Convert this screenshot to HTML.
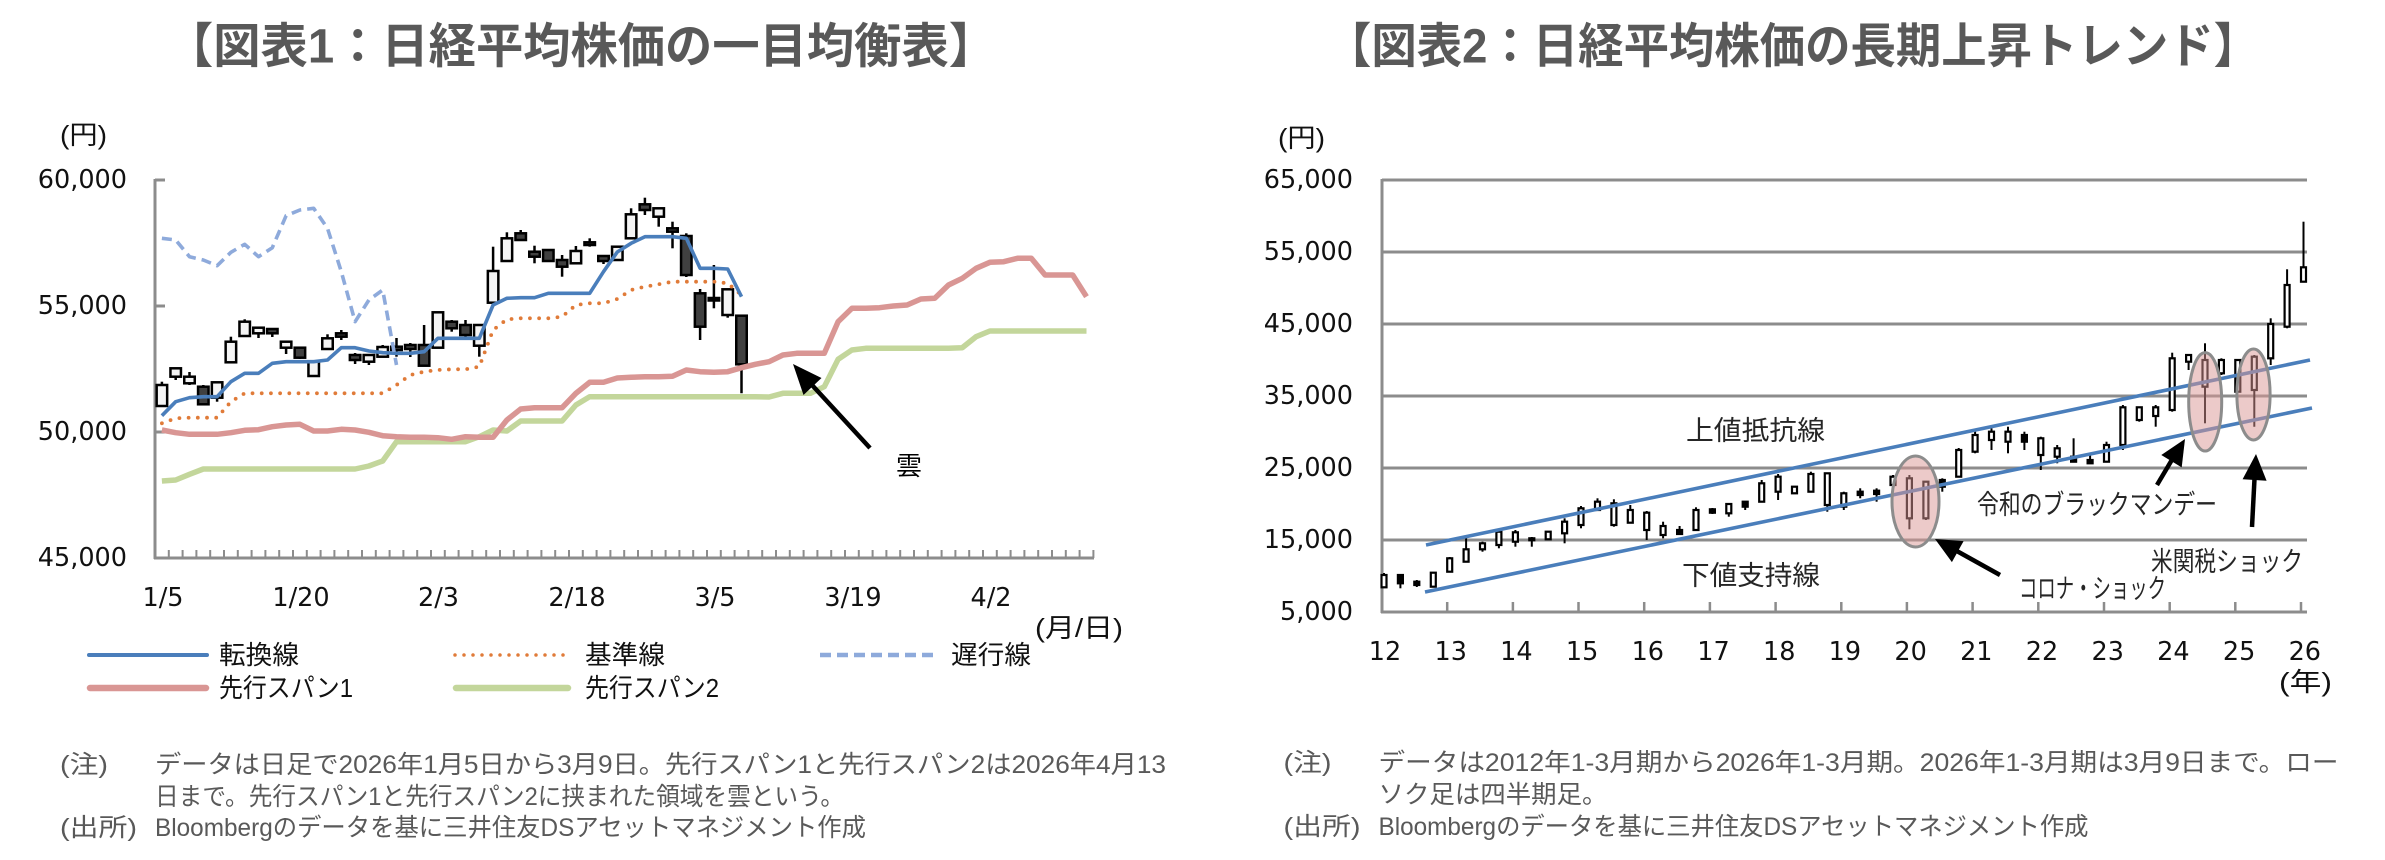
<!DOCTYPE html>
<html lang="ja">
<head>
<meta charset="utf-8">
<style>
html,body{margin:0;padding:0;background:#fff;}
svg{display:block;}
.jp{font-family:"Liberation Sans","Noto Sans CJK JP",sans-serif;}
.num{font-family:"DejaVu Sans","Liberation Sans",sans-serif;font-size:25.5px;fill:#111;}
</style>
</head>
<body>
<svg width="2385" height="860" viewBox="0 0 2385 860" xmlns="http://www.w3.org/2000/svg">
<rect x="0" y="0" width="2385" height="860" fill="#fff"/>

<!-- ===== Titles ===== -->
<text class="jp" x="166" y="47" dominant-baseline="central" font-size="48" font-weight="bold" fill="#595959" textLength="830" lengthAdjust="spacingAndGlyphs">【図表1：日経平均株価の一目均衡表】</text>
<text class="jp" x="1326" y="47" dominant-baseline="central" font-size="48" font-weight="bold" fill="#595959" textLength="933" lengthAdjust="spacingAndGlyphs">【図表2：日経平均株価の長期上昇トレンド】</text>

<!-- ===================== CHART 1 ===================== -->
<text class="jp" x="60" y="135" dominant-baseline="central" font-size="26" fill="#111" textLength="47" lengthAdjust="spacingAndGlyphs">(円)</text>
<g class="num" text-anchor="end" dominant-baseline="central">
<text x="127" y="180">60,000</text>
<text x="127" y="306">55,000</text>
<text x="127" y="432">50,000</text>
<text x="127" y="558">45,000</text>
</g>
<!-- axes -->
<g stroke="#8c8c8c" stroke-width="3" fill="none">
<line x1="155" y1="179" x2="155" y2="559"/>
<line x1="154" y1="558" x2="1094" y2="558"/>
<line x1="155" y1="180" x2="165" y2="180"/>
<line x1="155" y1="306" x2="165" y2="306"/>
<line x1="155" y1="432" x2="165" y2="432"/>
</g>
<path stroke="#8c8c8c" stroke-width="2" fill="none" d="M168.8 550V558M182.6 550V558M196.4 550V558M210.2 550V558M224 550V558M237.8 550V558M251.6 550V558M265.4 550V558M279.2 550V558M293 550V558M306.8 550V558M320.6 550V558M334.4 550V558M348.2 550V558M362 550V558M375.8 550V558M389.6 550V558M403.4 550V558M417.2 550V558M431 550V558M444.8 550V558M458.6 550V558M472.4 550V558M486.2 550V558M500 550V558M513.8 550V558M527.6 550V558M541.4 550V558M555.2 550V558M569 550V558M582.8 550V558M596.6 550V558M610.4 550V558M624.2 550V558M638 550V558M651.8 550V558M665.6 550V558M679.4 550V558M693.2 550V558M707 550V558M720.8 550V558M734.6 550V558M748.4 550V558M762.2 550V558M776 550V558M789.8 550V558M803.6 550V558M817.4 550V558M831.2 550V558M845 550V558M858.8 550V558M872.6 550V558M886.4 550V558M900.2 550V558M914 550V558M927.8 550V558M941.6 550V558M955.4 550V558M969.2 550V558M983 550V558M996.8 550V558M1010.6 550V558M1024.4 550V558M1038.2 550V558M1052 550V558M1065.8 550V558M1079.6 550V558M1093.4 550V558"/>
<!-- x labels -->
<g class="num" text-anchor="middle" dominant-baseline="central">
<text x="163" y="598">1/5</text>
<text x="301" y="598">1/20</text>
<text x="438.5" y="598">2/3</text>
<text x="577" y="598">2/18</text>
<text x="715" y="598">3/5</text>
<text x="853" y="598">3/19</text>
<text x="991" y="598">4/2</text>
</g>
<text class="jp" x="1035" y="628" dominant-baseline="central" font-size="26" fill="#111" textLength="88" lengthAdjust="spacingAndGlyphs">(月/日)</text>

<!-- candles chart 1 -->
<g stroke="#000" stroke-width="2.5">
<line x1="161.9" y1="381.7" x2="161.9" y2="406"/>
<line x1="175.7" y1="368" x2="175.7" y2="380"/>
<line x1="189.5" y1="372" x2="189.5" y2="385"/>
<line x1="203.3" y1="385" x2="203.3" y2="405"/>
<line x1="217.1" y1="382" x2="217.1" y2="401.7"/>
<line x1="230.9" y1="336.7" x2="230.9" y2="362.3"/>
<line x1="244.7" y1="319.3" x2="244.7" y2="336"/>
<line x1="258.5" y1="327" x2="258.5" y2="338"/>
<line x1="272.3" y1="328" x2="272.3" y2="337"/>
<line x1="286.1" y1="341" x2="286.1" y2="354"/>
<line x1="299.9" y1="347" x2="299.9" y2="359"/>
<line x1="313.7" y1="361.7" x2="313.7" y2="376"/>
<line x1="327.5" y1="334.3" x2="327.5" y2="349"/>
<line x1="341.3" y1="330" x2="341.3" y2="340"/>
<line x1="355.1" y1="353" x2="355.1" y2="364"/>
<line x1="368.9" y1="354" x2="368.9" y2="365"/>
<line x1="382.7" y1="345" x2="382.7" y2="357"/>
<line x1="396.5" y1="338" x2="396.5" y2="356.7"/>
<line x1="410.3" y1="343" x2="410.3" y2="357"/>
<line x1="424.1" y1="325" x2="424.1" y2="366"/>
<line x1="437.9" y1="312" x2="437.9" y2="348"/>
<line x1="451.7" y1="320" x2="451.7" y2="331.7"/>
<line x1="465.5" y1="320" x2="465.5" y2="337"/>
<line x1="479.3" y1="325" x2="479.3" y2="356.7"/>
<line x1="493.1" y1="246.7" x2="493.1" y2="302.7"/>
<line x1="506.9" y1="232.3" x2="506.9" y2="261"/>
<line x1="520.7" y1="230" x2="520.7" y2="241"/>
<line x1="534.5" y1="245.7" x2="534.5" y2="263.3"/>
<line x1="548.3" y1="250" x2="548.3" y2="262"/>
<line x1="562.1" y1="255" x2="562.1" y2="276.7"/>
<line x1="575.9" y1="246" x2="575.9" y2="264"/>
<line x1="589.7" y1="238.3" x2="589.7" y2="246.7"/>
<line x1="603.5" y1="255" x2="603.5" y2="264"/>
<line x1="617.3" y1="246" x2="617.3" y2="261"/>
<line x1="631.1" y1="208.3" x2="631.1" y2="238.3"/>
<line x1="644.9" y1="197.7" x2="644.9" y2="215"/>
<line x1="658.7" y1="208" x2="658.7" y2="226.7"/>
<line x1="672.5" y1="221.7" x2="672.5" y2="248.3"/>
<line x1="686.3" y1="233.3" x2="686.3" y2="277"/>
<line x1="700.1" y1="289" x2="700.1" y2="340"/>
<line x1="713.9" y1="265" x2="713.9" y2="308.3"/>
<line x1="727.7" y1="289" x2="727.7" y2="317.7"/>
<line x1="741.5" y1="315" x2="741.5" y2="393.3"/>
</g>
<g stroke="#000" stroke-width="2.5" fill="#f4f4f4">
<rect x="156.65" y="385" width="10.5" height="21"/>
<rect x="170.45" y="368.3" width="10.5" height="8.4"/>
<rect x="184.25" y="376.7" width="10.5" height="6.6"/>
<rect x="211.85" y="382.3" width="10.5" height="15.4"/>
<rect x="225.65" y="341.7" width="10.5" height="20.6"/>
<rect x="239.45" y="321.7" width="10.5" height="14.3"/>
<rect x="253.25" y="327.7" width="10.5" height="5.6"/>
<rect x="280.85" y="341.7" width="10.5" height="6"/>
<rect x="308.45" y="361.7" width="10.5" height="14.3"/>
<rect x="322.25" y="338.3" width="10.5" height="10.7"/>
<rect x="363.65" y="355" width="10.5" height="6.7"/>
<rect x="377.45" y="347" width="10.5" height="9.7"/>
<rect x="432.65" y="312.3" width="10.5" height="35.4"/>
<rect x="474.05" y="325" width="10.5" height="20.7"/>
<rect x="487.85" y="271" width="10.5" height="31.7"/>
<rect x="501.65" y="238.3" width="10.5" height="22.7"/>
<rect x="570.65" y="251" width="10.5" height="12.3"/>
<rect x="612.05" y="246.7" width="10.5" height="13.3"/>
<rect x="625.85" y="214.3" width="10.5" height="24"/>
<rect x="653.45" y="208.3" width="10.5" height="8.4"/>
<rect x="722.45" y="289.3" width="10.5" height="25.7"/>
</g>
<g stroke="#000" stroke-width="2.5" fill="#404040">
<rect x="198.05" y="386.7" width="10.5" height="17.6"/>
<rect x="267.05" y="329" width="10.5" height="4.3"/>
<rect x="294.65" y="347.7" width="10.5" height="10"/>
<rect x="336.05" y="333.3" width="10.5" height="3.4"/>
<rect x="349.85" y="355" width="10.5" height="5"/>
<rect x="391.25" y="346.7" width="10.5" height="3.3"/>
<rect x="405.05" y="345" width="10.5" height="4"/>
<rect x="418.85" y="345" width="10.5" height="20.7"/>
<rect x="446.45" y="321.7" width="10.5" height="6.6"/>
<rect x="460.25" y="325" width="10.5" height="10"/>
<rect x="515.45" y="233.3" width="10.5" height="6.7"/>
<rect x="529.25" y="251.7" width="10.5" height="5"/>
<rect x="543.05" y="250" width="10.5" height="11"/>
<rect x="556.85" y="260" width="10.5" height="6.7"/>
<rect x="584.45" y="242.3" width="10.5" height="2.7"/>
<rect x="598.25" y="256" width="10.5" height="5"/>
<rect x="639.65" y="204.3" width="10.5" height="5.7"/>
<rect x="667.25" y="228.3" width="10.5" height="3.4"/>
<rect x="681.05" y="236" width="10.5" height="39"/>
<rect x="694.85" y="293.3" width="10.5" height="33.4"/>
<rect x="708.65" y="298" width="10.5" height="2.5"/>
<rect x="736.25" y="315.7" width="10.5" height="48.6"/>
</g>

<!-- ichimoku lines -->
<g fill="none" stroke-linejoin="round">
<polyline stroke="#c3d69b" stroke-width="5.5" points="161.9,481 175.7,480 189.5,474.3 203.3,469 217.1,469 230.9,469 244.7,469 258.5,469 272.3,469 286.1,469 299.9,469 313.7,469 327.5,469 341.3,469 355.1,469 368.9,466 382.7,461 396.5,441.7 410.3,441.7 424.1,441.7 437.9,441.7 451.7,441.7 465.5,441.7 479.3,436.7 493.1,430 506.9,431 520.7,421 534.5,421 548.3,421 562.1,421 575.9,405 589.7,396.7 603.5,396.7 617.3,396.7 631.1,396.7 644.9,396.7 658.7,396.7 672.5,396.7 686.3,396.7 700.1,396.7 713.9,396.7 727.7,396.7 741.5,396.7 755.3,396.7 769.1,397 782.9,393.3 796.7,393.3 810.5,393.3 824.3,386.7 838.1,359.3 851.9,350 865.7,348.3 879.5,348.3 893.3,348.3 907.1,348.3 920.9,348.3 934.7,348.3 948.5,348.3 962.3,347.7 976.1,336.7 989.9,331 1003.7,331 1017.5,331 1031.3,331 1045.1,331 1058.9,331 1072.7,331 1086.5,331"/>
<polyline stroke="#d99694" stroke-width="5.5" points="161.9,430 175.7,432.7 189.5,434.3 203.3,434.3 217.1,434.3 230.9,432.7 244.7,430.3 258.5,429.7 272.3,426.7 286.1,425 299.9,424.3 313.7,431 327.5,431 341.3,429.3 355.1,430 368.9,432.3 382.7,435.7 396.5,436.7 410.3,437.3 424.1,437.3 437.9,437.7 451.7,439.3 465.5,436.7 479.3,437.3 493.1,437.3 506.9,420 520.7,409 534.5,407.7 548.3,407.7 562.1,407.7 575.9,393.3 589.7,382.3 603.5,382.3 617.3,378 631.1,377.3 644.9,376.7 658.7,376.7 672.5,376.3 686.3,370 700.1,371.7 713.9,372.3 727.7,371.7 741.5,367.7 755.3,364.3 769.1,361.7 782.9,355 796.7,353.3 810.5,353.3 824.3,353.3 838.1,321.7 851.9,308.3 865.7,308.3 879.5,307.7 893.3,306 907.1,305 920.9,299 934.7,298.3 948.5,285 962.3,278.3 976.1,268.3 989.9,262.3 1003.7,261.7 1017.5,258.3 1031.3,258.3 1045.1,275 1058.9,275 1072.7,275 1086.5,296.7"/>
<polyline stroke="#e07b39" stroke-width="3.8" stroke-linecap="round" stroke-dasharray="0 9.2" points="161.9,423.3 175.7,418.3 189.5,417.7 203.3,417.7 217.1,417.7 230.9,401.7 244.7,393.3 258.5,393.3 272.3,393.3 286.1,393.3 299.9,393.3 313.7,393.3 327.5,393.3 341.3,393.3 355.1,393.3 368.9,393.3 382.7,393.3 396.5,385 410.3,375 424.1,371.7 437.9,370 451.7,369.3 465.5,369.3 479.3,366.7 493.1,330 506.9,319.3 520.7,318.3 534.5,318.3 548.3,318.3 562.1,316.7 575.9,305 589.7,303.3 603.5,303.3 617.3,299 631.1,290 644.9,286.7 658.7,284.3 672.5,281.7 686.3,281.7 700.1,281.7 713.9,281.7 727.7,283.3 741.5,295"/>
<polyline stroke="#4a7ebb" stroke-width="3.6" points="161.9,415.7 175.7,401.7 189.5,397.7 203.3,396.7 217.1,396.7 230.9,381.7 244.7,373.3 258.5,373.3 272.3,363.3 286.1,361.7 299.9,361.7 313.7,361.7 327.5,360 341.3,347.7 355.1,347.7 368.9,351 382.7,352.7 396.5,353.3 410.3,353.3 424.1,351.7 437.9,338.3 451.7,338.3 465.5,338.3 479.3,338.3 493.1,305 506.9,298.3 520.7,297.7 534.5,297.7 548.3,293.3 562.1,293.3 575.9,293.3 589.7,293.3 603.5,271.7 617.3,252 631.1,243.3 644.9,236.7 658.7,236.7 672.5,236.7 686.3,238.3 700.1,268.3 713.9,268.3 727.7,269 741.5,296.7"/>
<polyline stroke="#8eaadb" stroke-width="3.6" stroke-dasharray="10 6" points="161.9,238.3 175.7,240 189.5,256.7 203.3,260 217.1,265.7 230.9,252.3 244.7,244.3 258.5,256.7 272.3,247.7 286.1,215.7 299.9,210 313.7,208.3 327.5,228.3 341.3,271.7 355.1,321.7 368.9,300 382.7,290 396.5,365"/>
</g>

<!-- 雲 arrow -->
<line x1="870" y1="448" x2="812" y2="385" stroke="#000" stroke-width="4.5"/>
<polygon points="793,364 821.5,378 803.5,395" fill="#000"/>
<text class="jp" x="909" y="466" text-anchor="middle" dominant-baseline="central" font-size="26" fill="#000">雲</text>

<!-- legend chart 1 -->
<line x1="89" y1="655" x2="207" y2="655" stroke="#4a7ebb" stroke-width="4" stroke-linecap="round"/>
<line x1="455" y1="655" x2="569" y2="655" stroke="#e07b39" stroke-width="3.5" stroke-linecap="round" stroke-dasharray="0 9"/>
<line x1="820" y1="655" x2="938" y2="655" stroke="#8eaadb" stroke-width="4.5" stroke-dasharray="11 6"/>
<line x1="90" y1="688" x2="206" y2="688" stroke="#d99694" stroke-width="6.5" stroke-linecap="round"/>
<line x1="456" y1="688" x2="568" y2="688" stroke="#c3d69b" stroke-width="6.5" stroke-linecap="round"/>
<g class="jp" font-size="26" fill="#111" dominant-baseline="central">
<text x="219" y="655" textLength="80" lengthAdjust="spacingAndGlyphs">転換線</text>
<text x="585" y="655" textLength="80" lengthAdjust="spacingAndGlyphs">基準線</text>
<text x="951" y="655" textLength="80" lengthAdjust="spacingAndGlyphs">遅行線</text>
<text x="219" y="688" textLength="134" lengthAdjust="spacingAndGlyphs">先行スパン1</text>
<text x="585" y="688" textLength="134" lengthAdjust="spacingAndGlyphs">先行スパン2</text>
</g>

<!-- notes chart 1 -->
<g class="jp" font-size="25" fill="#595959" dominant-baseline="central">
<text x="60" y="765" textLength="48" lengthAdjust="spacingAndGlyphs">(注)</text>
<text x="155" y="765" textLength="1011" lengthAdjust="spacingAndGlyphs">データは日足で2026年1月5日から3月9日。先行スパン1と先行スパン2は2026年4月13</text>
<text x="155" y="797" textLength="689" lengthAdjust="spacingAndGlyphs">日まで。先行スパン1と先行スパン2に挟まれた領域を雲という。</text>
<text x="60" y="828" textLength="77" lengthAdjust="spacingAndGlyphs">(出所)</text>
<text x="155" y="828" textLength="711" lengthAdjust="spacingAndGlyphs">Bloombergのデータを基に三井住友DSアセットマネジメント作成</text>
</g>

<!-- ===================== CHART 2 ===================== -->
<text class="jp" x="1278" y="138" dominant-baseline="central" font-size="26" fill="#111" textLength="47" lengthAdjust="spacingAndGlyphs">(円)</text>
<g class="num" text-anchor="end" dominant-baseline="central">
<text x="1353" y="180">65,000</text>
<text x="1353" y="252">55,000</text>
<text x="1353" y="324">45,000</text>
<text x="1353" y="396">35,000</text>
<text x="1353" y="468">25,000</text>
<text x="1353" y="540">15,000</text>
<text x="1353" y="612">5,000</text>
</g>
<g stroke="#8c8c8c" stroke-width="3" fill="none">
<line x1="1382" y1="180" x2="2307" y2="180"/>
<line x1="1382" y1="252" x2="2307" y2="252"/>
<line x1="1382" y1="324" x2="2307" y2="324"/>
<line x1="1382" y1="396" x2="2307" y2="396"/>
<line x1="1382" y1="468" x2="2307" y2="468"/>
<line x1="1382" y1="540" x2="2307" y2="540"/>
<line x1="1381" y1="612" x2="2307" y2="612"/>
<line x1="1382" y1="179" x2="1382" y2="613"/>
</g>
<path stroke="#8c8c8c" stroke-width="2.5" fill="none" d="M1447.2 602V612M1512.9 602V612M1578.5 602V612M1644.2 602V612M1709.9 602V612M1775.6 602V612M1841.3 602V612M1906.9 602V612M1972.6 602V612M2038.3 602V612M2104 602V612M2169.7 602V612M2235.3 602V612M2301 602V612"/>
<g class="num" text-anchor="middle" dominant-baseline="central">
<text x="1385" y="652">12</text>
<text x="1450.7" y="652">13</text>
<text x="1516.4" y="652">14</text>
<text x="1582.1" y="652">15</text>
<text x="1647.8" y="652">16</text>
<text x="1713.5" y="652">17</text>
<text x="1779.2" y="652">18</text>
<text x="1844.9" y="652">19</text>
<text x="1910.6" y="652">20</text>
<text x="1976.3" y="652">21</text>
<text x="2042" y="652">22</text>
<text x="2107.7" y="652">23</text>
<text x="2173.4" y="652">24</text>
<text x="2239.1" y="652">25</text>
<text x="2304.8" y="652">26</text>
</g>
<text class="jp" x="2279" y="682" dominant-baseline="central" font-size="26" fill="#111" textLength="53" lengthAdjust="spacingAndGlyphs">(年)</text>

<!-- candles chart 2 -->
<g stroke="#000" stroke-width="2">
<line x1="1384" y1="573" x2="1384" y2="588"/>
<line x1="1400.4" y1="574" x2="1400.4" y2="588.3"/>
<line x1="1416.8" y1="580" x2="1416.8" y2="587"/>
<line x1="1433.3" y1="572" x2="1433.3" y2="587"/>
<line x1="1449.7" y1="557" x2="1449.7" y2="572"/>
<line x1="1466.1" y1="536.7" x2="1466.1" y2="562"/>
<line x1="1482.5" y1="541.7" x2="1482.5" y2="551.7"/>
<line x1="1498.9" y1="530" x2="1498.9" y2="548.3"/>
<line x1="1515.4" y1="530" x2="1515.4" y2="546.7"/>
<line x1="1531.8" y1="537" x2="1531.8" y2="546.7"/>
<line x1="1548.2" y1="531" x2="1548.2" y2="540"/>
<line x1="1564.6" y1="518.3" x2="1564.6" y2="543.3"/>
<line x1="1581" y1="506" x2="1581" y2="528.3"/>
<line x1="1597.5" y1="498.3" x2="1597.5" y2="511"/>
<line x1="1613.9" y1="499.3" x2="1613.9" y2="526.7"/>
<line x1="1630.3" y1="505" x2="1630.3" y2="523"/>
<line x1="1646.7" y1="511" x2="1646.7" y2="540"/>
<line x1="1663.1" y1="521.7" x2="1663.1" y2="538.3"/>
<line x1="1679.6" y1="526" x2="1679.6" y2="535"/>
<line x1="1696" y1="507.3" x2="1696" y2="530"/>
<line x1="1712.4" y1="508" x2="1712.4" y2="514"/>
<line x1="1728.8" y1="503" x2="1728.8" y2="516.7"/>
<line x1="1745.2" y1="501" x2="1745.2" y2="510"/>
<line x1="1761.7" y1="480" x2="1761.7" y2="501.7"/>
<line x1="1778.1" y1="474" x2="1778.1" y2="500"/>
<line x1="1794.5" y1="486" x2="1794.5" y2="494"/>
<line x1="1810.9" y1="471.7" x2="1810.9" y2="492"/>
<line x1="1827.3" y1="473" x2="1827.3" y2="511.7"/>
<line x1="1843.8" y1="491.7" x2="1843.8" y2="510"/>
<line x1="1860.2" y1="488.3" x2="1860.2" y2="498.3"/>
<line x1="1876.6" y1="488.3" x2="1876.6" y2="501.7"/>
<line x1="1893" y1="475" x2="1893" y2="491.7"/>
<line x1="1909.4" y1="475" x2="1909.4" y2="529.3"/>
<line x1="1925.9" y1="481" x2="1925.9" y2="520"/>
<line x1="1942.3" y1="478.3" x2="1942.3" y2="491.7"/>
<line x1="1958.7" y1="448" x2="1958.7" y2="477"/>
<line x1="1975.1" y1="430" x2="1975.1" y2="453.3"/>
<line x1="1991.5" y1="428.3" x2="1991.5" y2="450"/>
<line x1="2008" y1="426.7" x2="2008" y2="453.3"/>
<line x1="2024.4" y1="431.7" x2="2024.4" y2="450"/>
<line x1="2040.8" y1="436.7" x2="2040.8" y2="470"/>
<line x1="2057.2" y1="445" x2="2057.2" y2="463.3"/>
<line x1="2073.6" y1="438.3" x2="2073.6" y2="462"/>
<line x1="2090.1" y1="453.3" x2="2090.1" y2="464"/>
<line x1="2106.5" y1="441.7" x2="2106.5" y2="462"/>
<line x1="2122.9" y1="405" x2="2122.9" y2="450"/>
<line x1="2139.3" y1="407" x2="2139.3" y2="421.7"/>
<line x1="2155.7" y1="405" x2="2155.7" y2="426.7"/>
<line x1="2172.2" y1="352.7" x2="2172.2" y2="411.7"/>
<line x1="2188.6" y1="355" x2="2188.6" y2="370"/>
<line x1="2205" y1="343.3" x2="2205" y2="423.3"/>
<line x1="2221.4" y1="358.3" x2="2221.4" y2="375"/>
<line x1="2237.8" y1="360" x2="2237.8" y2="392"/>
<line x1="2254.3" y1="355" x2="2254.3" y2="426.7"/>
<line x1="2270.7" y1="318.3" x2="2270.7" y2="365"/>
<line x1="2287.1" y1="269.3" x2="2287.1" y2="328.3"/>
<line x1="2303.5" y1="221.7" x2="2303.5" y2="281.7"/>
</g>
<g stroke="#000" stroke-width="2.2" fill="#fff">
<rect x="1381.5" y="575" width="5" height="12.3"/>
<rect x="1430.8" y="572.7" width="5" height="14"/>
<rect x="1447.2" y="558.3" width="5" height="13.4"/>
<rect x="1463.6" y="549.3" width="5" height="12.4"/>
<rect x="1480" y="543.3" width="5" height="6"/>
<rect x="1496.4" y="531.7" width="5" height="13.3"/>
<rect x="1512.9" y="532.3" width="5" height="9.4"/>
<rect x="1545.7" y="531.7" width="5" height="7.6"/>
<rect x="1562.1" y="521.7" width="5" height="11.6"/>
<rect x="1578.5" y="508.3" width="5" height="16.7"/>
<rect x="1595" y="501.7" width="5" height="8.3"/>
<rect x="1611.4" y="503.3" width="5" height="21.7"/>
<rect x="1627.8" y="510" width="5" height="12.7"/>
<rect x="1644.2" y="512.7" width="5" height="17.3"/>
<rect x="1660.6" y="526" width="5" height="9"/>
<rect x="1693.5" y="510" width="5" height="20"/>
<rect x="1726.3" y="504" width="5" height="9.3"/>
<rect x="1759.2" y="483.3" width="5" height="18.4"/>
<rect x="1775.6" y="476.7" width="5" height="15"/>
<rect x="1792" y="486.7" width="5" height="6.6"/>
<rect x="1808.4" y="474" width="5" height="17.7"/>
<rect x="1824.8" y="473.3" width="5" height="31.7"/>
<rect x="1841.3" y="493.3" width="5" height="13.4"/>
<rect x="1890.5" y="476.7" width="5" height="8.3"/>
<rect x="1906.9" y="478.3" width="5" height="40"/>
<rect x="1923.4" y="481.7" width="5" height="36.6"/>
<rect x="1956.2" y="450" width="5" height="26.7"/>
<rect x="1972.6" y="435" width="5" height="16.7"/>
<rect x="1989" y="431.7" width="5" height="8.3"/>
<rect x="2005.5" y="431.7" width="5" height="10"/>
<rect x="2038.3" y="438.3" width="5" height="16.7"/>
<rect x="2054.7" y="448.3" width="5" height="8.4"/>
<rect x="2104" y="445" width="5" height="16.7"/>
<rect x="2120.4" y="407.3" width="5" height="37.7"/>
<rect x="2136.8" y="407.3" width="5" height="12.7"/>
<rect x="2153.2" y="407.3" width="5" height="8.7"/>
<rect x="2169.7" y="358.3" width="5" height="51.7"/>
<rect x="2186.1" y="355" width="5" height="6.7"/>
<rect x="2202.5" y="360" width="5" height="26.7"/>
<rect x="2218.9" y="360" width="5" height="13.3"/>
<rect x="2235.3" y="360" width="5" height="31.7"/>
<rect x="2251.8" y="356.7" width="5" height="33.3"/>
<rect x="2268.2" y="324" width="5" height="34.3"/>
<rect x="2284.6" y="285" width="5" height="41.7"/>
<rect x="2301" y="267.3" width="5" height="14.4"/>
</g>
<g stroke="#000" stroke-width="2.2" fill="#000">
<rect x="1397.9" y="575" width="5" height="8.3"/>
<rect x="1414.3" y="581.7" width="5" height="3.3"/>
<rect x="1529.3" y="538.3" width="5" height="2"/>
<rect x="1677.1" y="530" width="5" height="4"/>
<rect x="1709.9" y="509.3" width="5" height="3.4"/>
<rect x="1742.7" y="501.7" width="5" height="5"/>
<rect x="1857.7" y="491.7" width="5" height="3.3"/>
<rect x="1874.1" y="490.7" width="5" height="3.3"/>
<rect x="1939.8" y="480" width="5" height="6.7"/>
<rect x="2021.9" y="435" width="5" height="6.7"/>
<rect x="2071.1" y="456.7" width="5" height="5"/>
<rect x="2087.6" y="460" width="5" height="3.3"/>
</g>

<!-- trend lines -->
<g stroke="#4a7ebb" stroke-width="3.6" fill="none">
<line x1="1426" y1="545" x2="2310" y2="360"/>
<line x1="1425" y1="592" x2="2312" y2="408"/>
</g>

<!-- ellipses -->
<g fill="#d99694" fill-opacity="0.5" stroke="#8c8c8c" stroke-width="3">
<ellipse cx="1915.5" cy="501.5" rx="23.5" ry="45.5"/>
<ellipse cx="2205.2" cy="401.8" rx="16.5" ry="49.2"/>
<ellipse cx="2253.5" cy="394.5" rx="16.6" ry="45.5"/>
</g>

<!-- arrows chart 2 -->
<g stroke="#000" stroke-width="4.5">
<line x1="2000" y1="575" x2="1955" y2="550"/>
<line x1="2157" y1="485" x2="2173" y2="458"/>
<line x1="2252" y1="527" x2="2254.6" y2="477"/>
</g>
<g fill="#000">
<polygon points="1935,539 1963.6,541.1 1951.9,562.1"/>
<polygon points="2185,439 2181.7,467.4 2161.3,455"/>
<polygon points="2256,454 2266.6,480.7 2242.6,479.3"/>
</g>

<!-- annotations chart 2 -->
<g class="jp" font-size="27" fill="#262626" dominant-baseline="central">
<text x="1686" y="431" textLength="139" lengthAdjust="spacingAndGlyphs">上値抵抗線</text>
<text x="1682" y="576" textLength="138" lengthAdjust="spacingAndGlyphs">下値支持線</text>
<text x="1977" y="505" textLength="240" lengthAdjust="spacingAndGlyphs">令和のブラックマンデー</text>
<text x="2151" y="562" textLength="152" lengthAdjust="spacingAndGlyphs">米関税ショック</text>
<text x="2019" y="589" textLength="147" lengthAdjust="spacingAndGlyphs">コロナ・ショック</text>
</g>

<!-- notes chart 2 -->
<g class="jp" font-size="25" fill="#595959" dominant-baseline="central">
<text x="1283.5" y="763" textLength="48" lengthAdjust="spacingAndGlyphs">(注)</text>
<text x="1378.5" y="763" textLength="960" lengthAdjust="spacingAndGlyphs">データは2012年1-3月期から2026年1-3月期。2026年1-3月期は3月9日まで。ロー</text>
<text x="1378.5" y="795" textLength="229" lengthAdjust="spacingAndGlyphs">ソク足は四半期足。</text>
<text x="1283.5" y="827" textLength="77" lengthAdjust="spacingAndGlyphs">(出所)</text>
<text x="1378.5" y="827" textLength="710" lengthAdjust="spacingAndGlyphs">Bloombergのデータを基に三井住友DSアセットマネジメント作成</text>
</g>
</svg>
</body>
</html>
